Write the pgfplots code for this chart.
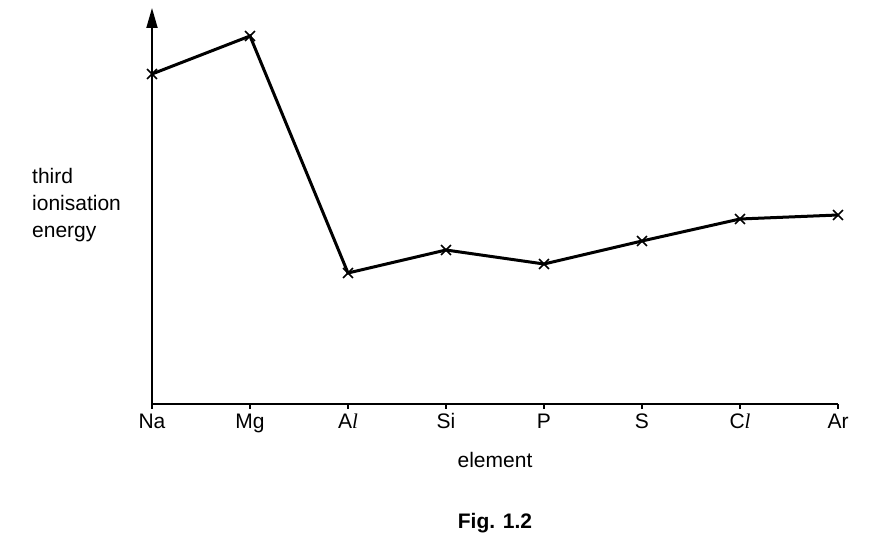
\documentclass[border=0pt]{standalone}
\usepackage{pgfplots}
\pgfplotsset{compat=1.18}
\usetikzlibrary{arrows.meta}
\usepackage{fontspec}
\setmainfont{Liberation Sans}
\newfontfamily\serif{Liberation Serif}
\newcommand{\il}{{\serif\itshape l}}

\begin{document}
\fontsize{21}{26}\selectfont
\begin{tikzpicture}
\useasboundingbox (-152pt,-144pt) rectangle (718pt,404pt);
	\begin{axis}[
		scale only axis,
		width=686pt,
		height=396pt,
		xmin=0, xmax=7,
		ymin=0, ymax=396,
		axis lines=left,
		x axis line style={-, line width=1.8pt},
		y axis line style={-{Triangle[length=20pt,width=11pt]}, line width=1.8pt},
		xtick={0,...,7},
		xticklabels={Na,Mg,A\il,Si,P,S,C\il,Ar},
		ytick=\empty,
		tick align=outside,
		major tick length=5pt,
		tick style={line width=1.5pt, black},
		xticklabel style={font=\fontsize{21}{26}\selectfont, anchor=north, inner sep=0pt, text height=15pt, text depth=5pt, yshift=-4pt},
		xlabel={element},
		xlabel style={font=\fontsize{21}{26}\selectfont, at={(axis description cs:0.5,0)}, anchor=center, yshift=-56pt},
		clip=false,
	]
	\addplot[line width=3pt, black, mark=x, mark size=7pt, mark options={line width=1.6pt}] coordinates {
(0, 330)
(1, 368)
(2, 131)
(3, 154)
(4, 140)
(5, 163)
(6, 185)
(7, 189)
	};
	\node[anchor=west, align=left, font=\fontsize{21}{27}\selectfont] at (rel axis cs:0,0.503) [xshift=-127pt] {third\\ionisation\\energy};
	\node[font=\fontsize{21}{26}\selectfont\bfseries] at (rel axis cs:0.5,0) [xshift=0pt, yshift=-119pt] {Fig. 1.2};
	\end{axis}
\end{tikzpicture}
\end{document}
